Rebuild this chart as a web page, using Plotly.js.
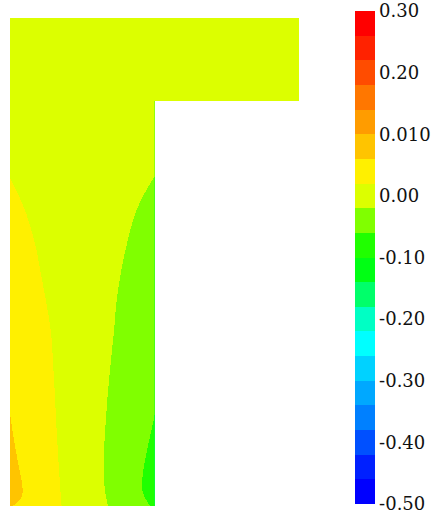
<!DOCTYPE html>
<html>
<head>
<meta charset="utf-8">
<script src="https://cdn.plot.ly/plotly-3.0.1.min.js"></script>
<style>
  html, body { margin: 0; padding: 0; background: #ffffff; }
  #chart { width: 431px; height: 514px; }
  /* hard-edged bands, no blending of stacked fills at the section outline */
  #chart .contourfill path,
  #chart .contourbg path { shape-rendering: crispEdges; }
</style>
</head>
<body>
<div id="chart"></div>
<script>
// Web section (stem): x across the web, y up from the foot
const stemX = [0, 0.05, 0.1, 0.2, 0.3, 0.4, 0.5, 0.6, 0.7, 0.8, 0.9, 0.95, 1.0];
const stemY = [0, 0.05, 0.1, 0.2, 0.3, 0.45, 0.6, 0.8, 1.0, 1.2, 1.4, 1.6, 1.8, 2.0, 2.2, 2.4, 2.6, 2.81];
const stemZ = [
  [0.0624, 0.0564, 0.0505, 0.0387, 0.0269, 0.0148, 0.0024, -0.0101, -0.0228, -0.0366, -0.0504, -0.0574, -0.0643],
  [0.0710, 0.0637, 0.0564, 0.0418, 0.0272, 0.0137, 0.0012, -0.0112, -0.0243, -0.0393, -0.0542, -0.0617, -0.0691],
  [0.0738, 0.0660, 0.0581, 0.0425, 0.0269, 0.0130, 0.0004, -0.0121, -0.0258, -0.0415, -0.0572, -0.0650, -0.0729],
  [0.0716, 0.0640, 0.0563, 0.0411, 0.0258, 0.0122, -0.0004, -0.0131, -0.0269, -0.0421, -0.0574, -0.0650, -0.0727],
  [0.0679, 0.0607, 0.0535, 0.0391, 0.0247, 0.0116, -0.0009, -0.0135, -0.0269, -0.0411, -0.0554, -0.0626, -0.0697],
  [0.0639, 0.0572, 0.0504, 0.0369, 0.0234, 0.0109, -0.0011, -0.0132, -0.0258, -0.0388, -0.0519, -0.0584, -0.0650],
  [0.0607, 0.0543, 0.0479, 0.0350, 0.0222, 0.0105, -0.0010, -0.0125, -0.0242, -0.0364, -0.0485, -0.0545, -0.0606],
  [0.0570, 0.0510, 0.0450, 0.0330, 0.0210, 0.0101, -0.0006, -0.0114, -0.0223, -0.0338, -0.0453, -0.0511, -0.0568],
  [0.0527, 0.0472, 0.0417, 0.0307, 0.0197, 0.0097, -0.0003, -0.0102, -0.0202, -0.0307, -0.0412, -0.0465, -0.0517],
  [0.0482, 0.0432, 0.0382, 0.0282, 0.0184, 0.0092, 0.0001, -0.0091, -0.0182, -0.0279, -0.0376, -0.0424, -0.0473],
  [0.0425, 0.0380, 0.0335, 0.0245, 0.0159, 0.0077, -0.0005, -0.0087, -0.0169, -0.0255, -0.0343, -0.0387, -0.0431],
  [0.0371, 0.0331, 0.0291, 0.0211, 0.0138, 0.0066, -0.0006, -0.0079, -0.0151, -0.0226, -0.0306, -0.0346, -0.0386],
  [0.0322, 0.0287, 0.0252, 0.0184, 0.0120, 0.0057, -0.0006, -0.0070, -0.0133, -0.0196, -0.0266, -0.0301, -0.0336],
  [0.0271, 0.0241, 0.0211, 0.0156, 0.0102, 0.0049, -0.0005, -0.0059, -0.0113, -0.0167, -0.0223, -0.0253, -0.0283],
  [0.0217, 0.0193, 0.0171, 0.0128, 0.0084, 0.0040, -0.0003, -0.0047, -0.0090, -0.0134, -0.0178, -0.0199, -0.0224],
  [0.0167, 0.0151, 0.0134, 0.0101, 0.0068, 0.0035, 0.0002, -0.0031, -0.0064, -0.0097, -0.0130, -0.0147, -0.0163],
  [0.0125, 0.0113, 0.0100, 0.0075, 0.0050, 0.0025, 0.0000, -0.0025, -0.0050, -0.0075, -0.0100, -0.0113, -0.0125],
  [0.0090, 0.0081, 0.0072, 0.0054, 0.0036, 0.0018, 0.0000, -0.0018, -0.0036, -0.0054, -0.0072, -0.0081, -0.0090]
];

// Flange section across the top
const flangeX = [0, 0.5, 1, 1.5, 2];
const flangeY = [2.8, 3.1, 3.377];
const flangeZ = [
  [0.0091, 0.0000, -0.0090, -0.0060, -0.0040],
  [0.0060, 0.0000, -0.0050, -0.0040, -0.0030],
  [0.0040, 0.0000, -0.0030, -0.0020, -0.0020]
];

// Contour bands: 20 levels of 0.04 from -0.50 to 0.30, colours listed bottom to top
const levelStart = -0.5;
const levelEnd = 0.3;
const levelSize = 0.04;
const bandColors = [
  '#0000ff', '#0020ff', '#0050ff', '#0080ff', '#00a8ff',
  '#00d2ff', '#00ffff', '#00ffc4', '#00ff6a', '#00ff14',
  '#20ff00', '#80ff00', '#dcff00', '#fff000', '#ffc400',
  '#ff9c00', '#ff7700', '#ff4c00', '#ff2200', '#ff0000'
];

// Colour-bar ticks
const tickValues = [-0.5, -0.4, -0.3, -0.2, -0.1, 0.0, 0.1, 0.2, 0.3];
const tickLabels = ['-0.50', '-0.40', '-0.30', '-0.20', '-0.10', '0.00', '0.010', '0.20', '0.30'];

// Stepped colour scale, one flat step per band
const stepScale = [];
bandColors.forEach((c, k) => {
  stepScale.push([k / bandColors.length, c]);
  stepScale.push([(k + 1) / bandColors.length, c]);
});

const contourSettings = {
  coloring: 'fill',
  showlines: false,
  start: levelStart,
  end: levelEnd,
  size: levelSize
};

const stemTrace = {
  type: 'contour',
  x: stemX,
  y: stemY,
  z: stemZ,
  autocontour: false,
  contours: contourSettings,
  colorscale: stepScale,
  zmin: levelStart,
  zmax: levelEnd,
  line: { width: 0, smoothing: 1.2 },
  hoverinfo: 'skip',
  showscale: true,
  colorbar: {
    thickness: 20,
    thicknessmode: 'pixels',
    len: 493,
    lenmode: 'pixels',
    x: 1.1938,
    xanchor: 'left',
    y: 1.0143,
    yanchor: 'top',
    xpad: 0,
    ypad: 0,
    outlinewidth: 0,
    ticks: '',
    tickmode: 'array',
    tickvals: tickValues,
    ticktext: tickLabels,
    ticklabeloverflow: 'allow',
    tickfont: { family: 'DejaVu Serif', size: 18, color: '#111111' }
  }
};

const flangeTrace = {
  type: 'contour',
  x: flangeX,
  y: flangeY,
  z: flangeZ,
  autocontour: false,
  contours: contourSettings,
  colorscale: stepScale,
  zmin: levelStart,
  zmax: levelEnd,
  line: { width: 0, smoothing: 1.2 },
  hoverinfo: 'skip',
  showscale: false
};

const layout = {
  width: 431,
  height: 514,
  margin: { l: 10, r: 132, t: 18, b: 8, autoexpand: false },
  paper_bgcolor: '#ffffff',
  plot_bgcolor: '#ffffff',
  showlegend: false,
  xaxis: { range: [0, 2], visible: false, fixedrange: true },
  yaxis: { range: [0, 3.377], visible: false, fixedrange: true },
  font: { family: 'DejaVu Serif', size: 18, color: '#111111' }
};

Plotly.newPlot('chart', [stemTrace, flangeTrace], layout, { staticPlot: true, displayModeBar: false });
</script>
</body>
</html>
